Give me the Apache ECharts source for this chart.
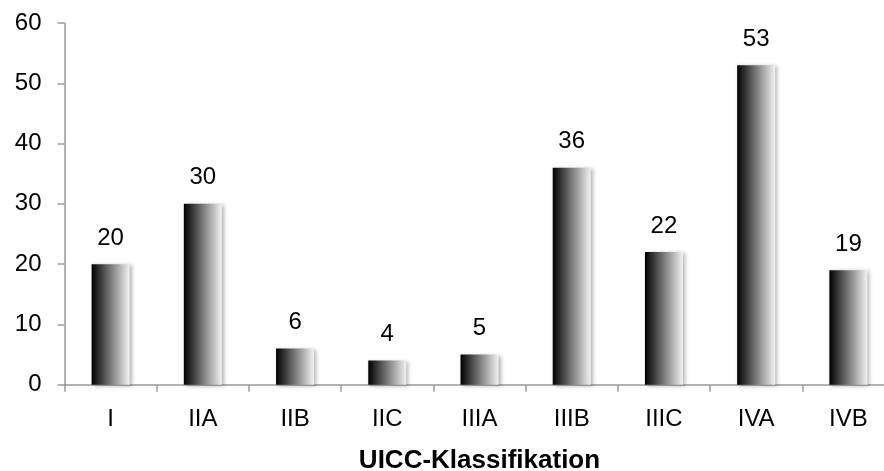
<!DOCTYPE html>
<html>
<head>
<meta charset="utf-8">
<script src="https://cdn.jsdelivr.net/npm/echarts@6/dist/echarts.min.js"></script>
<style>
  html, body { margin: 0; padding: 0; background: #ffffff; }
  #chart { width: 884px; height: 471px; }
</style>
</head>
<body>
<div id="chart"></div>
<script>
// UICC stage distribution
const stages = ['I', 'IIA', 'IIB', 'IIC', 'IIIA', 'IIIB', 'IIIC', 'IVA', 'IVB'];
const counts = [20, 30, 6, 4, 5, 36, 22, 53, 19];
const axisTitle = 'UICC-Klassifikation';
const yTicks = { min: 0, max: 60, step: 10 };

const FONT = 'Liberation Sans, Arial, Helvetica, sans-serif';
const AXIS_GRAY = '#9a9a9a';

// horizontal black-to-white fill used for every bar
const barFill = new echarts.graphic.LinearGradient(0, 0, 1, 0, [
  { offset: 0, color: '#000000' },
  { offset: 0.5, color: '#7a7a7a' },
  { offset: 1, color: '#f2f2f2' }
]);

const chart = echarts.init(document.getElementById('chart'), null, { renderer: 'canvas' });

chart.setOption({
  backgroundColor: '#ffffff',
  animation: false,
  grid: {
    left: 64.5,
    top: 23,
    width: 830,
    height: 361.7,
    containLabel: false,
    outerBoundsMode: 'none'
  },
  xAxis: {
    type: 'category',
    data: stages,
    boundaryGap: true,
    name: axisTitle,
    nameLocation: 'middle',
    nameGap: 63,
    nameTextStyle: { fontFamily: FONT, fontSize: 26, fontWeight: 'bold', color: '#000' },
    axisLine: { show: true, lineStyle: { color: AXIS_GRAY, width: 1.5 } },
    axisTick: { show: true, length: 7, lineStyle: { color: AXIS_GRAY, width: 1.5 } },
    axisLabel: { fontFamily: FONT, fontSize: 24, color: '#000', margin: 23 },
    splitLine: { show: false }
  },
  yAxis: {
    type: 'value',
    min: yTicks.min,
    max: yTicks.max,
    interval: yTicks.step,
    axisLine: { show: true, lineStyle: { color: AXIS_GRAY, width: 1.5 } },
    axisTick: { show: true, length: 7, lineStyle: { color: AXIS_GRAY, width: 1.5 } },
    axisLabel: { fontFamily: FONT, fontSize: 24, color: '#000', margin: 23 },
    splitLine: { show: false }
  },
  series: [{
    type: 'bar',
    data: counts,
    barWidth: 38,
    itemStyle: {
      color: barFill,
      shadowColor: 'rgba(0,0,0,0.3)',
      shadowBlur: 4,
      shadowOffsetX: 2,
      shadowOffsetY: 1
    },
    label: {
      show: true,
      position: 'top',
      distance: 14,
      fontFamily: FONT,
      fontSize: 24,
      color: '#000'
    }
  }]
});
</script>
</body>
</html>
